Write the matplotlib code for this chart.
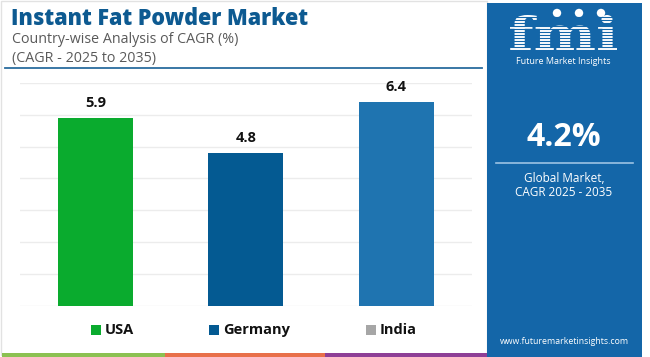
import matplotlib
matplotlib.use("Agg")
import matplotlib.pyplot as plt
from matplotlib.patches import Rectangle, Circle, PathPatch
from matplotlib.textpath import TextPath
from matplotlib.font_manager import FontProperties
from matplotlib.transforms import Affine2D

# ---------- data ----------
countries = ["USA", "Germany", "India"]
cagr = [5.9, 4.8, 6.4]
bar_colors = ["#0aab2e", "#045a92", "#1f74b0"]
legend_colors = ["#0aab2e", "#045a92", "#a6a6a6"]
global_cagr = "4.2%"

title = "Instant Fat Powder Market"
subtitle = ["Country-wise Analysis of CAGR (%)", "(CAGR - 2025 to 2035)"]

W, H = 650, 357
FONT = "Open Sans"
panel_blue = "#1466a8"

fig = plt.figure(figsize=(W / 100, H / 100), dpi=100)
fig.patch.set_facecolor("white")

def fx(px):
    return px / W

def fy(py):
    return 1 - py / H

# ---------- background bits (pixel coords, y down) ----------
bg = fig.add_axes([0, 0, 1, 1])
bg.set_xlim(0, W)
bg.set_ylim(H, 0)
bg.axis("off")

# light frame around left part
bg.add_patch(Rectangle((1, 1), 486, 354, fill=False, ec="#e2e2e2", lw=1))
# title underline
bg.plot([5, 482], [68, 68], color="#2a6c9e", lw=1.3)
# bottom colour strips
bg.add_patch(Rectangle((2, 353), 163, 4, color="#8cc152", lw=0))
bg.add_patch(Rectangle((165, 353), 160, 4, color="#e8704a", lw=0))
bg.add_patch(Rectangle((325, 353), 162, 4, color="#8e3f96", lw=0))

# right blue panel
bg.add_patch(Rectangle((487, 3), 155, 354, color=panel_blue, lw=0))

# fmi logo drawn as a path, with horizontal stripes
tp = TextPath((0, 0), "fmi", size=10,
              prop=FontProperties(family="DejaVu Serif", weight="bold"))
ext = tp.get_extents()
sx = (617 - 510) / ext.width
sy = (50 - 15) / ext.y1
logo_tf = Affine2D().translate(-ext.x0, 0).scale(sx, -sy).translate(510, 50)
bg.add_patch(PathPatch(logo_tf.transform_path(tp), color="white", lw=0))
for yy in range(17, 51, 3):
    bg.plot([508, 620], [yy, yy], color=panel_blue, lw=0.8)
for cx in [557, 579, 601]:
    bg.add_patch(Circle((cx, 13), 4.2, color="white", lw=0))
bg.text(563, 61, "Future Market Insights", color="white", fontsize=6.5,
        family=FONT, ha="center", va="center")

bg.text(564, 137, global_cagr, color="white", fontsize=23, fontweight="bold",
        family=FONT, ha="center", va="center")
bg.plot([496, 633], [163, 163], color="#9cc3e4", lw=1.2)
bg.text(564, 178, "Global Market,", color="white", fontsize=8.5,
        family=FONT, ha="center", va="center")
bg.text(564, 193, "CAGR 2025 - 2035", color="white", fontsize=8.5,
        family=FONT, ha="center", va="center")
bg.text(564, 342, "www.futuremarketinsights.com", color="white", fontsize=6.3,
        family=FONT, ha="center", va="center")

# ---------- titles ----------
bg.text(11, 25, title, color="#0d5a91", fontsize=15.5, fontweight="heavy",
        family=FONT, ha="left", va="baseline")
bg.text(12, 43, subtitle[0], color="#5a5a5a", fontsize=10.3,
        family=FONT, ha="left", va="baseline")
bg.text(12, 62, subtitle[1], color="#5a5a5a", fontsize=10.3,
        family=FONT, ha="left", va="baseline")

# ---------- bar chart ----------
ax = fig.add_axes([fx(20), fy(305.7), fx(471.7 - 20), (305.7 - 83) / H])
ax.set_xlim(-0.5, len(countries) - 0.5)
ax.set_ylim(0, 7)
ax.patch.set_alpha(0)

x = range(len(countries))
bars = ax.bar(x, cagr, width=0.5, color=bar_colors, zorder=3)
for rect, v in zip(bars, cagr):
    ax.annotate(f"{v}", (rect.get_x() + rect.get_width() / 2, v),
                xytext=(0, 11), textcoords="offset points",
                ha="center", va="center", fontsize=10.5, fontweight="bold",
                family=FONT, color="#111111")

ax.set_yticks(range(0, 8))
ax.grid(axis="y", color="#ececec", lw=1, zorder=0)
ax.tick_params(length=0, labelleft=False, labelbottom=False)
for s in ax.spines.values():
    s.set_visible(False)

# ---------- legend ----------
leg_sq_x = [91, 209, 366]
for sqx, name, col in zip(leg_sq_x, countries, legend_colors):
    bg.add_patch(Rectangle((sqx, 325), 10, 10, color=col, lw=0))
    bg.text(sqx + 14, 330, name, color="#111111", fontsize=10.5,
            fontweight="bold", family=FONT, ha="left", va="center")

fig.savefig("out.png", dpi=100, facecolor="white")
